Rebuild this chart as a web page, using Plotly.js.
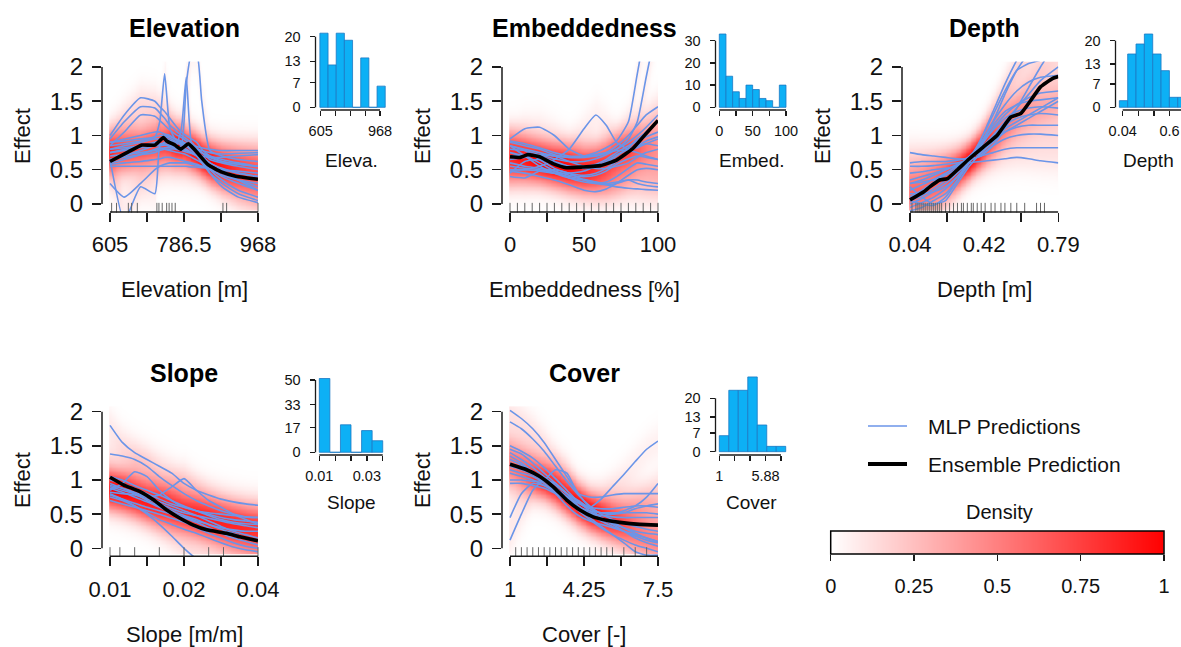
<!DOCTYPE html>
<html><head><meta charset="utf-8">
<script src="https://cdn.plot.ly/plotly-3.0.1.min.js"></script>
<style>html,body{margin:0;padding:0;background:#fff;}#chart{width:1181px;height:647px;}</style>
</head><body><div id="chart"></div>
<script>
// ================= DATA =================
const panelTitles = ['Elevation', 'Embeddedness', 'Depth', 'Slope', 'Cover'];
const axisTitles = ['Elevation [m]', 'Embeddedness [%]', 'Depth [m]', 'Slope [m/m]', 'Cover [-]'];
const histTitles = ['Eleva.', 'Embed.', 'Depth', 'Slope', 'Cover'];
const effectTicks = [0, 0.5, 1, 1.5, 2];
const effectTickText = ['0', '0.5', '1', '1.5', '2'];

// --- Elevation ---
const elevTicks = [605, 695.75, 786.5, 877.25, 968];
const elevTickText = ['605', '', '786.5', '', '968'];
const elevHistTickText = ['605', '', '', '', '968'];
const elevX = [605, 640, 680, 715, 727, 739, 752, 765, 780, 792, 805, 818, 830, 850, 880, 920, 968];
const elevMLP = [
  [0.90, 0.92, 0.95, 0.98, 1.20, 1.90, 1.10, 0.95, 0.90, 0.88, 0.85, 0.80, 0.75, 0.68, 0.62, 0.58, 0.55],
  [0.75, 0.78, 0.82, 0.85, 0.85, 0.86, 0.85, 0.82, 0.85, 1.75, 2.20, 2.20, 1.50, 0.78, 0.70, 0.65, 0.62],
  [0.65, 0.68, 0.72, 0.75, 0.78, 0.80, 0.80, 0.82, 1.10, 1.85, 0.88, 0.80, 0.75, 0.70, 0.65, 0.60, 0.55],
  [1.00, 1.30, 1.55, 1.50, 1.42, 1.35, 1.25, 1.15, 1.05, 1.00, 0.95, 0.90, 0.80, 0.70, 0.62, 0.58, 0.55],
  [0.95, 1.20, 1.42, 1.40, 1.33, 1.25, 1.15, 1.08, 1.00, 0.95, 0.90, 0.82, 0.75, 0.65, 0.60, 0.55, 0.50],
  [0.85, 1.05, 1.30, 1.28, 1.22, 1.15, 1.08, 1.02, 0.97, 0.92, 0.85, 0.78, 0.70, 0.60, 0.52, 0.45, 0.40],
  [0.65, -0.25, 0.25, 0.15, 0.85, 0.90, 0.92, 0.90, 0.88, 0.85, 0.80, 0.75, 0.70, 0.60, 0.50, 0.35, 0.20],
  [0.30, 0.10, 0.30, 0.50, 0.55, 0.58, 0.60, 0.60, 0.60, 0.60, 0.58, 0.56, 0.55, 0.50, 0.42, 0.35, 0.30],
  [0.80, 0.85, 0.90, 0.95, 0.95, 0.98, 0.96, 0.92, 0.90, 0.88, 0.86, 0.84, 0.82, 0.80, 0.78, 0.78, 0.78],
  [0.75, 0.80, 0.85, 0.90, 0.92, 0.95, 0.93, 0.90, 0.86, 0.84, 0.82, 0.80, 0.78, 0.75, 0.73, 0.74, 0.75],
  [0.70, 0.72, 0.75, 0.78, 0.80, 0.82, 0.82, 0.80, 0.78, 0.76, 0.74, 0.72, 0.70, 0.68, 0.68, 0.70, 0.72],
  [0.58, 0.60, 0.62, 0.65, 0.66, 0.68, 0.68, 0.66, 0.64, 0.62, 0.60, 0.58, 0.55, 0.52, 0.50, 0.48, 0.45],
  [0.55, 0.55, 0.55, 0.55, 0.55, 0.55, 0.55, 0.55, 0.55, 0.55, 0.54, 0.54, 0.53, 0.52, 0.50, 0.45, 0.40],
  [0.90, 0.95, 1.00, 1.05, 1.05, 1.02, 1.00, 0.95, 0.90, 0.85, 0.78, 0.70, 0.60, 0.45, 0.30, 0.15, 0.05],
  [0.85, 0.88, 0.92, 0.98, 1.00, 1.00, 0.98, 0.95, 0.92, 0.88, 0.82, 0.75, 0.65, 0.50, 0.35, 0.20, 0.10],
  [0.80, 0.82, 0.85, 0.88, 0.88, 0.88, 0.86, 0.84, 0.82, 0.80, 0.75, 0.70, 0.62, 0.45, 0.25, 0.10, 0.02],
  [0.65, 0.70, 0.78, 0.85, 0.86, 0.86, 0.84, 0.82, 0.80, 0.78, 0.74, 0.70, 0.65, 0.55, 0.45, 0.35, 0.25],
  [0.60, 0.65, 0.72, 0.80, 0.82, 0.80, 0.78, 0.76, 0.74, 0.72, 0.68, 0.64, 0.60, 0.52, 0.40, 0.30, 0.20]
];
const elevEnsX = [605, 650, 683, 715, 736, 744, 764, 779, 797, 813, 846, 878, 911, 968];
const elevEnsY = [0.62, 0.76, 0.86, 0.86, 0.97, 0.92, 0.86, 0.80, 0.88, 0.79, 0.57, 0.47, 0.41, 0.36];
const elevRug = [609, 621, 650, 658, 672, 720, 725, 733, 744, 750, 757, 765, 882, 891, 968];
const elevBinEdges = [600, 650, 700, 750, 800, 850, 900, 950, 1000];
const elevCounts = [21, 12, 21, 19, 0, 14, 0, 6];
const elevHistYTicks = [0, 7, 13, 20];

// --- Embeddedness ---
const embedTicks = [0, 25, 50, 75, 100];
const embedTickText = ['0', '', '50', '', '100'];
const embedHistTickText = ['0', '', '50', '', '100'];
const embedX = [0, 10, 20, 30, 40, 50, 58, 65, 72, 80, 86, 92, 100];
const embedMLP = [
  [0.85, 0.80, 0.75, 0.70, 0.68, 0.70, 0.75, 0.82, 0.92, 1.20, 1.90, 2.60, 3.20],
  [0.80, 0.78, 0.72, 0.66, 0.62, 0.62, 0.66, 0.72, 0.80, 0.95, 1.20, 1.85, 2.70],
  [0.50, 0.50, 0.55, 0.65, 0.80, 1.10, 1.30, 1.15, 0.90, 0.80, 0.82, 0.88, 0.95],
  [0.95, 1.10, 1.12, 1.00, 0.80, 0.70, 0.70, 0.75, 0.85, 1.00, 1.15, 1.30, 1.42],
  [0.90, 0.85, 0.80, 0.72, 0.68, 0.68, 0.70, 0.74, 0.80, 0.90, 1.00, 1.12, 1.30],
  [0.70, 0.72, 0.70, 0.62, 0.55, 0.52, 0.55, 0.60, 0.70, 0.82, 0.95, 1.05, 1.20],
  [0.45, 0.62, 0.65, 0.60, 0.55, 0.55, 0.58, 0.65, 0.75, 0.85, 0.92, 0.98, 1.05],
  [0.85, 0.78, 0.65, 0.52, 0.45, 0.42, 0.45, 0.52, 0.62, 0.75, 0.85, 0.92, 0.98],
  [0.50, 0.50, 0.48, 0.45, 0.45, 0.48, 0.55, 0.62, 0.72, 0.80, 0.85, 0.88, 0.85],
  [0.60, 0.55, 0.52, 0.48, 0.42, 0.40, 0.42, 0.48, 0.58, 0.66, 0.70, 0.68, 0.65],
  [0.75, 0.70, 0.60, 0.48, 0.38, 0.32, 0.30, 0.32, 0.40, 0.52, 0.60, 0.58, 0.55],
  [0.48, 0.45, 0.40, 0.35, 0.28, 0.20, 0.18, 0.22, 0.30, 0.42, 0.50, 0.52, 0.50],
  [0.40, 0.38, 0.48, 0.50, 0.45, 0.35, 0.30, 0.28, 0.30, 0.35, 0.35, 0.32, 0.30],
  [0.85, 0.70, 0.55, 0.45, 0.38, 0.35, 0.32, 0.30, 0.32, 0.35, 0.30, 0.27, 0.25],
  [0.55, 0.52, 0.50, 0.45, 0.40, 0.36, 0.32, 0.28, 0.25, 0.23, 0.22, 0.21, 0.20],
  [0.65, 0.68, 0.72, 0.70, 0.62, 0.55, 0.52, 0.52, 0.55, 0.60, 0.68, 0.75, 0.80],
  [0.92, 0.88, 0.82, 0.75, 0.70, 0.70, 0.72, 0.75, 0.78, 0.78, 0.75, 0.70, 0.65]
];
const embedEnsX = [0, 7, 12, 20, 29, 38, 49, 61, 72, 83, 92, 100];
const embedEnsY = [0.69, 0.68, 0.72, 0.69, 0.59, 0.53, 0.54, 0.56, 0.64, 0.81, 1.03, 1.22];
const embedRug = [0, 5, 10, 15, 20, 25, 30, 35, 40, 45, 50, 55, 60, 65, 70, 75, 80, 85, 90, 95, 100];
const embedBinEdges = [0, 10, 20, 30, 40, 50, 60, 70, 80, 90, 100];
const embedCounts = [33, 14, 7, 4, 10, 8, 4, 3, 0, 10];
const embedHistYTicks = [0, 10, 20, 30];

// --- Depth ---
const depthTicks = [0.04, 0.2275, 0.415, 0.6025, 0.79];
const depthTickText = ['0.04', '', '0.42', '', '0.79'];
const depthHistTickText = ['0.04', '', '', '0.6', ''];
const depthX = [0.04, 0.10, 0.16, 0.22, 0.28, 0.34, 0.40, 0.46, 0.52, 0.58, 0.64, 0.70, 0.79];
const depthMLP = [
  [0.75, 0.72, 0.70, 0.68, 0.66, 0.66, 0.70, 0.85, 1.10, 1.40, 1.70, 2.00, 2.40],
  [0.60, 0.62, 0.62, 0.62, 0.64, 0.68, 0.75, 0.90, 1.05, 1.15, 1.25, 1.35, 1.50],
  [0.55, 0.55, 0.56, 0.58, 0.60, 0.64, 0.70, 0.75, 0.80, 0.82, 0.82, 0.82, 0.82],
  [0.45, 0.47, 0.50, 0.52, 0.55, 0.60, 0.62, 0.64, 0.66, 0.68, 0.66, 0.63, 0.60],
  [0.35, 0.40, 0.45, 0.50, 0.56, 0.63, 0.72, 0.85, 0.95, 1.00, 1.02, 1.02, 1.00],
  [0.30, 0.35, 0.42, 0.50, 0.58, 0.66, 0.78, 0.92, 1.05, 1.12, 1.15, 1.15, 1.15],
  [0.20, 0.28, 0.36, 0.45, 0.55, 0.66, 0.80, 0.98, 1.15, 1.25, 1.30, 1.32, 1.30],
  [0.10, 0.20, 0.32, 0.44, 0.56, 0.70, 0.88, 1.08, 1.25, 1.35, 1.40, 1.42, 1.40],
  [0.05, 0.12, 0.22, 0.35, 0.50, 0.68, 0.90, 1.15, 1.35, 1.45, 1.50, 1.52, 1.55],
  [0.00, 0.08, 0.18, 0.30, 0.45, 0.62, 0.85, 1.10, 1.30, 1.45, 1.55, 1.62, 1.65],
  [-0.05, 0.02, 0.10, 0.22, 0.40, 0.62, 0.90, 1.20, 1.45, 1.65, 1.78, 1.85, 1.88],
  [-0.10, -0.05, 0.05, 0.15, 0.35, 0.60, 0.95, 1.35, 1.75, 2.10, 2.40, 2.60, 2.80],
  [0.15, 0.15, 0.18, 0.25, 0.40, 0.60, 0.85, 1.20, 1.60, 1.95, 2.20, 2.40, 2.60],
  [0.05, 0.00, -0.02, 0.10, 0.35, 0.65, 0.95, 1.30, 1.65, 1.95, 2.05, 2.10, 2.20],
  [0.30, 0.32, 0.35, 0.42, 0.52, 0.65, 0.82, 1.00, 1.20, 1.40, 1.60, 1.80, 2.00],
  [0.25, 0.10, 0.00, 0.05, 0.30, 0.55, 0.75, 0.92, 1.10, 1.20, 1.30, 1.40, 1.55]
];
const depthEnsX = [0.04, 0.11, 0.14, 0.19, 0.23, 0.28, 0.34, 0.41, 0.48, 0.55, 0.60, 0.65, 0.70, 0.76, 0.79];
const depthEnsY = [0.06, 0.18, 0.25, 0.35, 0.37, 0.50, 0.66, 0.83, 1.00, 1.27, 1.32, 1.51, 1.71, 1.83, 1.86];
const depthRug = [0.05, 0.07, 0.08, 0.09, 0.10, 0.11, 0.12, 0.13, 0.14, 0.15, 0.16, 0.17, 0.18, 0.19, 0.20, 0.22, 0.24, 0.26, 0.28, 0.30, 0.31, 0.33, 0.35, 0.36, 0.38, 0.40, 0.42, 0.45, 0.47, 0.50, 0.52, 0.55, 0.58, 0.62, 0.68, 0.70, 0.72];
const depthBinEdges = [0, 0.1, 0.2, 0.3, 0.4, 0.5, 0.6, 0.7, 0.8];
const depthCounts = [2, 16, 19, 22, 16, 11, 3, 3];
const depthHistYTicks = [0, 7, 13, 20];

// --- Slope ---
const slopeTicks = [0.01, 0.0175, 0.025, 0.0325, 0.04];
const slopeTickText = ['0.01', '', '0.02', '', '0.04'];
const slopeHistTickText = ['0.01', '', '', '0.03', ''];
const slopeX = [0.010, 0.0125, 0.015, 0.0175, 0.020, 0.0225, 0.025, 0.0275, 0.030, 0.0325, 0.035, 0.0375, 0.040];
const slopeMLP = [
  [1.80, 1.55, 1.40, 1.30, 1.20, 1.10, 0.95, 0.85, 0.78, 0.72, 0.68, 0.65, 0.63],
  [1.38, 1.35, 1.30, 1.20, 1.05, 0.92, 0.80, 0.70, 0.62, 0.55, 0.50, 0.46, 0.45],
  [0.85, 0.95, 1.12, 1.05, 0.85, 0.70, 0.60, 0.55, 0.50, 0.45, 0.42, 0.40, 0.38],
  [0.90, 0.85, 0.80, 0.75, 0.78, 0.90, 1.02, 0.85, 0.70, 0.60, 0.50, 0.42, 0.35],
  [0.80, 0.72, 0.62, 0.50, 0.35, 0.18, 0.00, -0.15, -0.25, -0.30, -0.30, -0.30, -0.30],
  [0.88, 0.82, 0.75, 0.68, 0.60, 0.52, 0.45, 0.38, 0.30, 0.22, 0.15, 0.10, 0.05],
  [0.78, 0.72, 0.66, 0.60, 0.55, 0.50, 0.46, 0.40, 0.35, 0.28, 0.22, 0.15, 0.10],
  [0.70, 0.65, 0.60, 0.55, 0.50, 0.44, 0.38, 0.30, 0.22, 0.15, 0.08, 0.03, 0.00],
  [1.00, 0.95, 0.88, 0.80, 0.72, 0.65, 0.60, 0.55, 0.52, 0.50, 0.48, 0.46, 0.45],
  [0.82, 0.80, 0.78, 0.72, 0.65, 0.58, 0.52, 0.48, 0.44, 0.40, 0.36, 0.33, 0.30],
  [0.95, 0.88, 0.80, 0.70, 0.62, 0.55, 0.48, 0.42, 0.35, 0.30, 0.27, 0.25, 0.25],
  [1.05, 1.00, 0.92, 0.85, 0.78, 0.70, 0.62, 0.55, 0.48, 0.42, 0.38, 0.36, 0.35],
  [0.75, 0.70, 0.62, 0.52, 0.42, 0.35, 0.28, 0.22, 0.15, 0.08, 0.02, -0.02, -0.05],
  [0.92, 0.88, 0.82, 0.75, 0.68, 0.62, 0.55, 0.48, 0.40, 0.32, 0.25, 0.20, 0.15]
];
const slopeEnsX = [0.010, 0.0127, 0.0161, 0.0188, 0.0215, 0.0242, 0.0269, 0.0296, 0.0336, 0.0363, 0.040];
const slopeEnsY = [1.04, 0.93, 0.83, 0.71, 0.56, 0.44, 0.34, 0.27, 0.22, 0.17, 0.11];
const slopeRug = [0.010, 0.012, 0.015, 0.020, 0.025, 0.030, 0.033, 0.040];
const slopeBinEdges = [0.010, 0.015, 0.020, 0.025, 0.030, 0.035, 0.040];
const slopeCounts = [51, 0, 19, 0, 15, 8];
const slopeHistYTicks = [0, 17, 33, 50];

// --- Cover ---
const coverTicks = [1, 2.625, 4.25, 5.875, 7.5];
const coverTickText = ['1', '', '4.25', '', '7.5'];
const coverHistTickText = ['1', '', '', '5.88', ''];
const coverX = [1, 1.5, 2, 2.5, 3, 3.5, 4, 4.5, 5, 5.5, 6, 6.5, 7, 7.5];
const coverMLP = [
  [2.02, 1.90, 1.75, 1.55, 1.30, 1.05, 0.80, 0.60, 0.45, 0.35, 0.25, 0.15, 0.08, 0.03],
  [1.85, 1.75, 1.60, 1.42, 1.20, 0.98, 0.78, 0.62, 0.50, 0.42, 0.36, 0.32, 0.28, 0.25],
  [1.50, 1.42, 1.32, 1.18, 1.02, 0.85, 0.68, 0.55, 0.45, 0.38, 0.30, 0.22, 0.15, 0.10],
  [1.45, 1.38, 1.25, 1.10, 0.95, 0.80, 0.68, 0.60, 0.58, 0.58, 0.60, 0.62, 0.62, 0.60],
  [1.40, 1.30, 1.18, 1.05, 0.92, 0.80, 0.70, 0.60, 0.72, 0.90, 1.08, 1.27, 1.45, 1.57],
  [1.35, 1.25, 1.12, 1.00, 0.88, 0.76, 0.66, 0.58, 0.52, 0.50, 0.52, 0.58, 0.62, 0.65],
  [1.00, 1.00, 0.98, 1.00, 1.15, 1.10, 0.80, 0.75, 0.75, 0.78, 0.80, 0.80, 0.80, 0.80],
  [0.12, 0.50, 0.85, 1.00, 0.95, 0.80, 0.62, 0.50, 0.40, 0.32, 0.25, 0.18, 0.12, 0.08],
  [0.45, 0.80, 0.95, 0.92, 0.85, 0.72, 0.60, 0.50, 0.42, 0.36, 0.30, 0.25, 0.22, 0.20],
  [1.30, 1.22, 1.12, 1.00, 0.85, 0.70, 0.55, 0.42, 0.30, 0.20, 0.12, 0.05, 0.00, -0.05],
  [1.20, 1.15, 1.08, 0.98, 0.85, 0.72, 0.58, 0.45, 0.32, 0.20, 0.08, -0.05, -0.10, -0.10],
  [1.10, 1.05, 1.00, 0.92, 0.82, 0.70, 0.58, 0.50, 0.48, 0.50, 0.55, 0.62, 0.75, 0.95],
  [1.25, 1.18, 1.10, 1.00, 0.88, 0.75, 0.62, 0.52, 0.48, 0.46, 0.45, 0.45, 0.45, 0.45],
  [0.95, 0.95, 0.92, 0.88, 0.80, 0.70, 0.60, 0.55, 0.52, 0.52, 0.52, 0.52, 0.52, 0.50],
  [1.15, 1.10, 1.05, 0.95, 0.80, 0.62, 0.48, 0.40, 0.35, 0.30, 0.25, 0.20, 0.15, 0.10]
];
const coverEnsX = [1, 1.73, 2.31, 2.9, 3.48, 4.07, 4.65, 5.24, 5.82, 6.7, 7.5];
const coverEnsY = [1.23, 1.15, 1.05, 0.90, 0.71, 0.56, 0.46, 0.41, 0.38, 0.35, 0.34];
const coverRug = [1.25, 1.5, 1.75, 2, 2.25, 2.5, 2.75, 3, 3.25, 3.5, 3.75, 4, 4.25, 4.5, 4.75, 5, 5.25, 5.5, 6, 6.5, 7];
const coverBinEdges = [1, 2, 3, 4, 5, 6, 7, 8];
const coverCounts = [6, 23, 23, 28, 10, 2, 2];
const coverHistYTicks = [0, 7, 13, 20];

// Legend
const legendLabels = ['MLP Predictions', 'Ensemble Prediction'];
const densityTitle = 'Density';
const densityTicks = [0, 0.25, 0.5, 0.75, 1];
const densityTickText = ['0', '0.25', '0.5', '0.75', '1'];

// ================= STYLE / LAYOUT =================
const W = 1181, H = 647;
const FONT = 'Liberation Sans, Arial, Helvetica, sans-serif';
const BLUE = '#6b95e8';
const BAR_FILL = '#0db0f5';
const BAR_LINE = '#1b78c4';
const AXC = '#1a1a1a';
const DENS_SCALE = [[0, 'rgb(255,255,255)'], [1, 'rgb(255,0,0)']];
const RUG_Y = -0.055;
const YR = [-0.117, 2.08];
const px = p => p / W;
const py = p => 1 - p / H;

const panels = [
  {x: elevX, mlp: elevMLP, ensX: elevEnsX, ensY: elevEnsY, rug: elevRug, ticks: elevTicks, tt: elevTickText,
   xdom: [102, 258], row: 0, col: 0,
   bins: elevBinEdges, counts: elevCounts, hxt: elevHistTickText, hyt: elevHistYTicks,
   hxdom: [315.5, 388], hxr: [573.2, 1017], hydom: [30, 110], hyr: [-0.76, 21.9]},
  {x: embedX, mlp: embedMLP, ensX: embedEnsX, ensY: embedEnsY, rug: embedRug, ticks: embedTicks, tt: embedTickText,
   xdom: [502, 658], row: 0, col: 1,
   bins: embedBinEdges, counts: embedCounts, hxt: embedHistTickText, hyt: embedHistYTicks,
   hxdom: [715.5, 789], hxr: [-5.7, 104.5], hydom: [30, 110], hyr: [-1.2, 34.8]},
  {x: depthX, mlp: depthMLP, ensX: depthEnsX, ensY: depthEnsY, rug: depthRug, ticks: depthTicks, tt: depthTickText,
   xdom: [902, 1058.3], row: 0, col: 2,
   bins: depthBinEdges, counts: depthCounts, hxt: depthHistTickText, hyt: depthHistYTicks,
   hxdom: [1115.5, 1181], hxr: [-0.046, 0.739], hydom: [30, 110], hyr: [-0.81, 23.2]},
  {x: slopeX, mlp: slopeMLP, ensX: slopeEnsX, ensY: slopeEnsY, rug: slopeRug, ticks: slopeTicks, tt: slopeTickText,
   xdom: [102, 258], row: 1, col: 0,
   bins: slopeBinEdges, counts: slopeCounts, hxt: slopeHistTickText, hyt: slopeHistYTicks,
   hxdom: [315.5, 388], hxr: [0.0082, 0.0425], hydom: [372, 455], hyr: [-1.87, 55.5]},
  {x: coverX, mlp: coverMLP, ensX: coverEnsX, ensY: coverEnsY, rug: coverRug, ticks: coverTicks, tt: coverTickText,
   xdom: [502, 658], row: 1, col: 1,
   bins: coverBinEdges, counts: coverCounts, hxt: coverHistTickText, hyt: coverHistYTicks,
   hxdom: [715.5, 790], hxr: [0.6, 8.45], hydom: [372, 455], hyr: [-1.24, 29.85]}
];
const GAP = 8;
const rowYDom = [[61.5, 212], [406.2, 556.3]];
const rowTitleY = [28, 373];
const rowXTitleY = [289, 634];
const rowEffectY = [136, 480];
const rowHistTitleY = [161, 502];

function interp(xs, ys, x) {
  if (x <= xs[0]) return ys[0];
  for (let i = 1; i < xs.length; i++) {
    if (x <= xs[i]) { const t = (x - xs[i-1]) / (xs[i] - xs[i-1]); return ys[i-1] + t * (ys[i] - ys[i-1]); }
  }
  return ys[ys.length - 1];
}
// density of the MLP curves (kernel estimate along the effect axis), derived from the curves above
function density(xs, curves) {
  const nx = 90, ny = 110, h = 0.19, y0 = -0.08, y1 = 2.08;
  const gx = [], gy = [];
  const x0 = xs[0], x1 = xs[xs.length - 1];
  for (let i = 0; i < nx; i++) gx.push(x0 + (x1 - x0) * i / (nx - 1));
  for (let j = 0; j < ny; j++) gy.push(y0 + (y1 - y0) * j / (ny - 1));
  const z = gy.map(() => new Array(nx).fill(0));
  curves.forEach(c => {
    for (let i = 0; i < nx; i++) {
      const v = interp(xs, c, gx[i]);
      for (let j = 0; j < ny; j++) { const d = (gy[j] - v) / h; z[j][i] += Math.exp(-0.5 * d * d); }
    }
  });
  let m = 0; z.forEach(r => r.forEach(v => { if (v > m) m = v; }));
  const zz = z.map(r => r.map(v => Math.pow(v / m, 1.1)));
  return {gx, gy, z: zz};
}

const traces = [];
const layout = {
  width: W, height: H, margin: {l: 0, r: 0, t: 0, b: 0},
  paper_bgcolor: '#fff', plot_bgcolor: 'rgba(0,0,0,0)', showlegend: false,
  font: {family: FONT, color: '#111'},
  annotations: [], shapes: []
};

function ax(n) { return n === 1 ? '' : String(n); }

panels.forEach((p, i) => {
  const n = i + 1, s = ax(n);
  const xa = 'x' + s, ya = 'y' + s;
  const d = density(p.x, p.mlp);
  traces.push({type: 'heatmap', x: d.gx, y: d.gy, z: d.z, colorscale: DENS_SCALE, zmin: 0, zmax: 1,
    showscale: false, zsmooth: 'best', xaxis: xa, yaxis: ya, hoverinfo: 'skip'});
  p.mlp.forEach(c => traces.push({type: 'scatter', mode: 'lines', x: p.x, y: c, xaxis: xa, yaxis: ya,
    line: {color: BLUE, width: 1.6, shape: 'spline', smoothing: 0.5}, hoverinfo: 'skip', name: legendLabels[0]}));
  traces.push({type: 'scatter', mode: 'lines', x: p.ensX, y: p.ensY, xaxis: xa, yaxis: ya,
    line: {color: '#000', width: 3.6, shape: 'spline', smoothing: 0.4}, name: legendLabels[1]});
  traces.push({type: 'scatter', mode: 'markers', x: p.rug, y: p.rug.map(() => RUG_Y), xaxis: xa, yaxis: ya,
    cliponaxis: false, marker: {symbol: 'line-ns-open', size: 7, color: '#666', line: {width: 1, color: '#666'}}, hoverinfo: 'skip'});

  const yd = rowYDom[p.row];
  const span = p.x[p.x.length-1] - p.x[0];
  const wpx = p.xdom[1] - p.xdom[0] - GAP;
  layout['xaxis' + s] = {domain: [px(p.xdom[0]), px(p.xdom[1])], anchor: ya,
    range: [p.x[0] - span * GAP / wpx, p.x[p.x.length-1]],
    tickvals: p.ticks, ticktext: p.tt, ticks: 'outside', ticklen: 9, tickwidth: 1.5, tickcolor: AXC,
    showline: false, showgrid: false, zeroline: false, tickfont: {size: 22, family: FONT, color: '#111'},
    ticklabelstandoff: 4, fixedrange: true};
  layout['yaxis' + s] = {domain: [py(yd[1]), py(yd[0])], anchor: xa, range: YR,
    tickvals: effectTicks, ticktext: effectTickText, ticks: 'outside', ticklen: 9, tickwidth: 1.5, tickcolor: AXC,
    showline: false, showgrid: false, zeroline: false, tickfont: {size: 24, family: FONT, color: '#111'},
    ticklabelstandoff: 4, fixedrange: true};
  layout.shapes.push({type: 'line', xref: xa + ' domain', yref: ya, x0: 0, x1: 0, y0: 0, y1: 2, line: {color: AXC, width: 1.5}});
  layout.shapes.push({type: 'line', xref: xa, yref: ya + ' domain', x0: p.ticks[0], x1: p.ticks[4], y0: 0, y1: 0, line: {color: AXC, width: 1.5}});

  const cx = (p.xdom[0] + GAP + p.xdom[1]) / 2;
  layout.annotations.push({text: '<b>' + panelTitles[i] + '</b>', x: px(cx), y: py(rowTitleY[p.row]), xref: 'paper', yref: 'paper',
    xanchor: 'center', yanchor: 'middle', showarrow: false, font: {size: 25, family: FONT, color: '#000'}});
  layout.annotations.push({text: axisTitles[i], x: px(cx), y: py(rowXTitleY[p.row]), xref: 'paper', yref: 'paper',
    xanchor: 'center', yanchor: 'middle', showarrow: false, font: {size: 22, family: FONT, color: '#111'}});
  layout.annotations.push({text: 'Effect', x: px(22 + 400 * p.col), y: py(rowEffectY[p.row]), xref: 'paper', yref: 'paper',
    xanchor: 'center', yanchor: 'middle', textangle: -90, showarrow: false, font: {size: 22, family: FONT, color: '#111'}});

  // histogram
  const hn = n + 5, hs = ax(hn), hxa = 'x' + hs, hya = 'y' + hs;
  const centers = [], widths = [];
  for (let k = 0; k < p.counts.length; k++) { centers.push((p.bins[k] + p.bins[k+1]) / 2); widths.push(p.bins[k+1] - p.bins[k]); }
  traces.push({type: 'bar', x: centers, y: p.counts, width: widths, xaxis: hxa, yaxis: hya,
    marker: {color: BAR_FILL, line: {color: BAR_LINE, width: 0.8}}, hoverinfo: 'skip'});
  layout['xaxis' + hs] = {domain: [px(p.hxdom[0]), Math.min(1, px(p.hxdom[1]))], anchor: hya, range: p.hxr,
    tickvals: p.ticks, ticktext: p.hxt, ticks: 'outside', ticklen: 5, tickwidth: 1.3, tickcolor: AXC,
    showline: false, showgrid: false, zeroline: false, tickfont: {size: 14.5, family: FONT, color: '#111'},
    ticklabelstandoff: 3, fixedrange: true};
  layout['yaxis' + hs] = {domain: [py(p.hydom[1]), py(p.hydom[0])], anchor: hxa, range: p.hyr,
    tickvals: p.hyt, ticks: 'outside', ticklen: 5, tickwidth: 1.3, tickcolor: AXC,
    showline: false, showgrid: false, zeroline: false, tickfont: {size: 14.5, family: FONT, color: '#111'},
    ticklabelstandoff: 6, fixedrange: true};
  layout.shapes.push({type: 'line', xref: hxa + ' domain', yref: hya, x0: 0, x1: 0, y0: 0, y1: p.hyt[p.hyt.length-1], line: {color: AXC, width: 1.3}});
  layout.shapes.push({type: 'line', xref: hxa, yref: hya + ' domain', x0: p.ticks[0], x1: p.ticks[4], y0: 0, y1: 0, line: {color: AXC, width: 1.3}});
  layout.annotations.push({text: histTitles[i], x: px((p.hxdom[0] + Math.min(p.hxdom[1], 388 + 400 * p.col)) / 2),
    y: py(rowHistTitleY[p.row]), xref: 'paper', yref: 'paper', xanchor: 'center', yanchor: 'middle', showarrow: false,
    font: {size: 19, family: FONT, color: '#111'}});
});

// ----- legend (lines + labels) -----
layout.shapes.push({type: 'line', xref: 'paper', yref: 'paper', x0: px(868), x1: px(907), y0: py(426), y1: py(426), line: {color: BLUE, width: 1.6}});
layout.shapes.push({type: 'line', xref: 'paper', yref: 'paper', x0: px(868), x1: px(907), y0: py(464), y1: py(464), line: {color: '#000', width: 4}});
layout.annotations.push({text: legendLabels[0], x: px(926), y: py(426), xref: 'paper', yref: 'paper', xanchor: 'left', yanchor: 'middle', showarrow: false, font: {size: 21, family: FONT, color: '#111'}});
layout.annotations.push({text: legendLabels[1], x: px(926), y: py(464), xref: 'paper', yref: 'paper', xanchor: 'left', yanchor: 'middle', showarrow: false, font: {size: 21, family: FONT, color: '#111'}});
layout.annotations.push({text: densityTitle, x: px(999), y: py(512), xref: 'paper', yref: 'paper', xanchor: 'center', yanchor: 'middle', showarrow: false, font: {size: 20, family: FONT, color: '#111'}});

// ----- density colour bar -----
const gradX = [];
for (let k = 0; k <= 100; k++) gradX.push(k / 100);
traces.push({type: 'heatmap', x: gradX, y: [0], z: [gradX], colorscale: DENS_SCALE, zmin: 0, zmax: 1, showscale: false,
  zsmooth: 'best', xaxis: 'x11', yaxis: 'y11', hoverinfo: 'skip'});
layout.xaxis11 = {domain: [px(830.7), px(1164)], anchor: 'y11', range: [0, 1], tickvals: densityTicks, ticktext: densityTickText,
  ticks: 'outside', ticklen: 6, tickwidth: 1.3, tickcolor: AXC, showline: false, showgrid: false, zeroline: false,
  tickfont: {size: 20, family: FONT, color: '#111'}, ticklabelstandoff: 8, fixedrange: true};
layout.yaxis11 = {domain: [py(554), py(531)], anchor: 'x11', range: [-0.5, 0.5], showticklabels: false, ticks: '',
  showline: false, showgrid: false, zeroline: false, fixedrange: true};
layout.shapes.push({type: 'rect', xref: 'x11 domain', yref: 'y11 domain', x0: 0, x1: 1, y0: 0, y1: 1, line: {color: '#000', width: 1.5}});

Plotly.newPlot('chart', traces, layout, {displayModeBar: false, staticPlot: true});
</script>
</body></html>
